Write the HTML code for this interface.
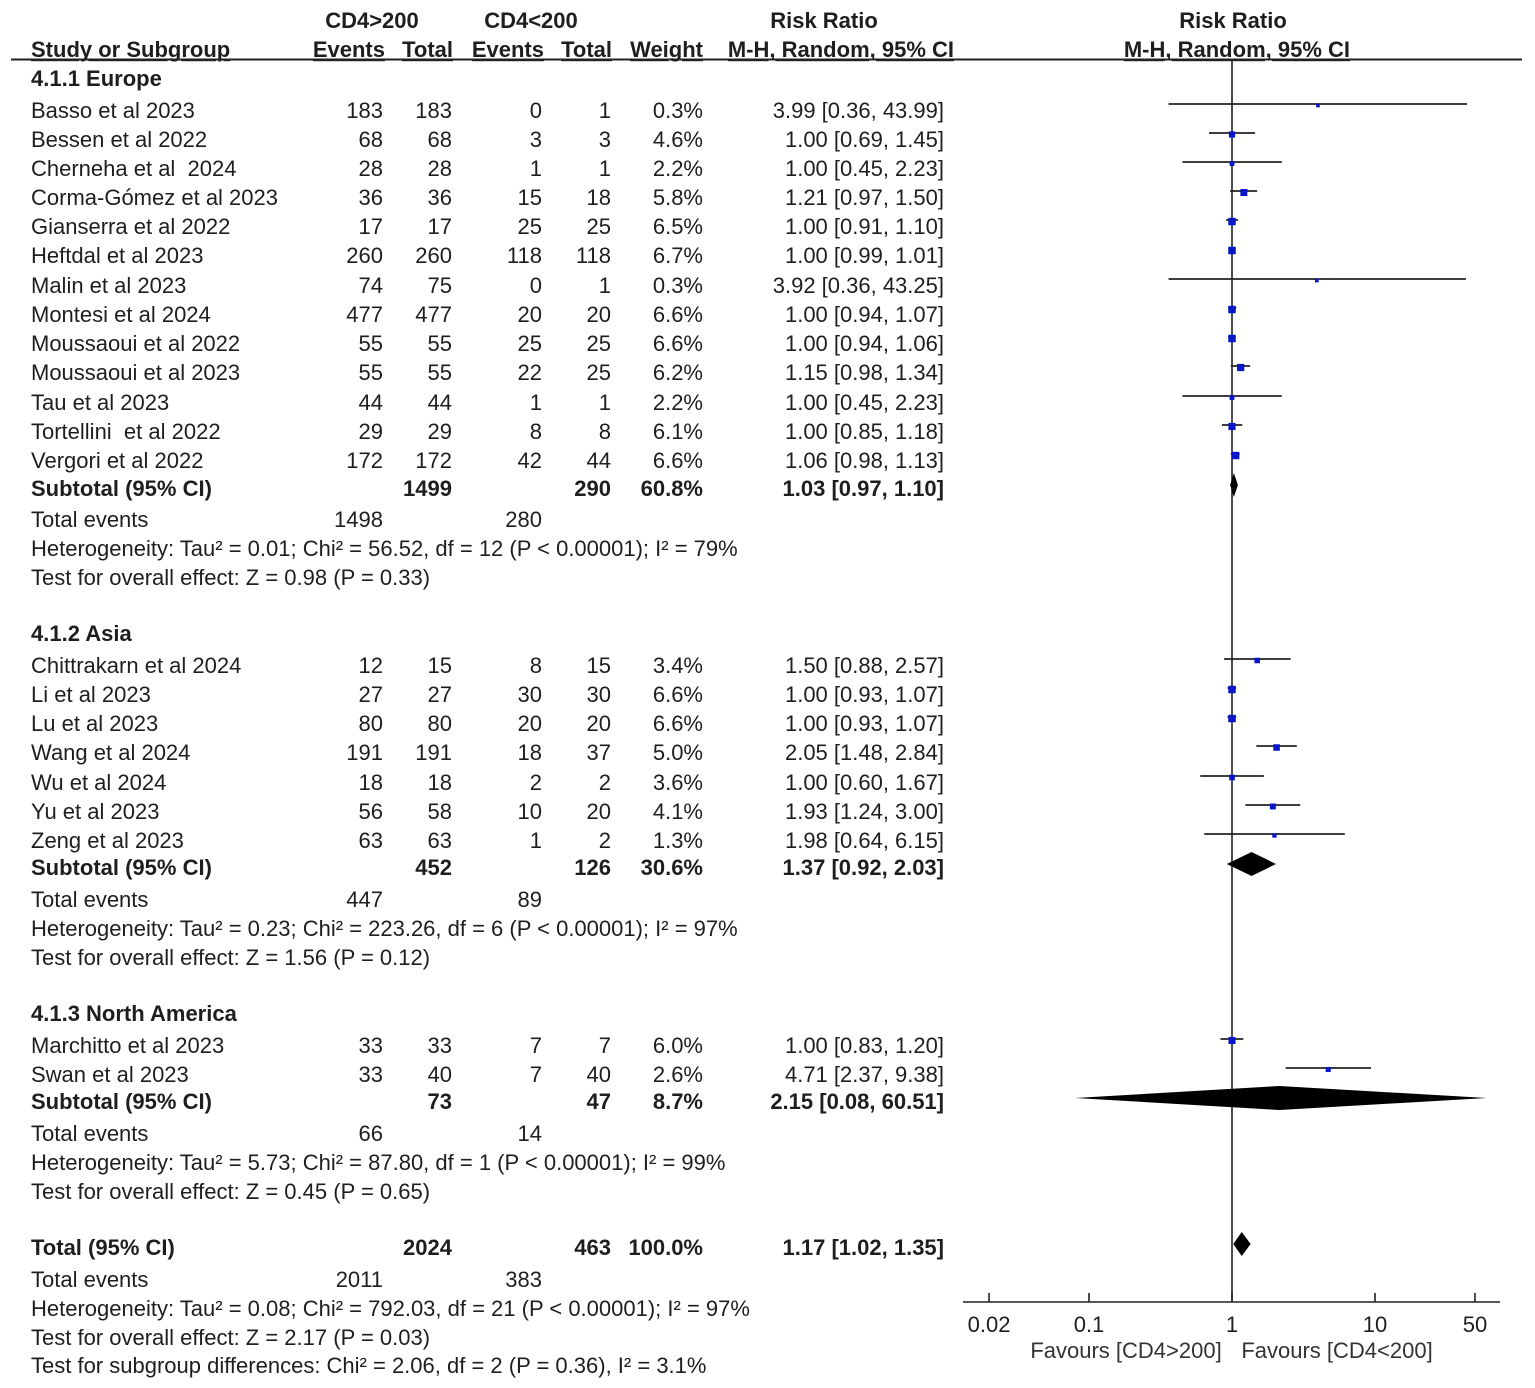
<!DOCTYPE html>
<html><head><meta charset="utf-8"><style>
html,body{margin:0;padding:0;background:#fff;overflow:hidden}
svg{display:block;font-family:"Liberation Sans",Arial,sans-serif;font-size:22px;fill:#1e1e1e}
text{white-space:pre}
.b{font-weight:bold}
</style></head><body>
<svg id="c" width="1535" height="1388" viewBox="0 0 1535 1388">
<g>
<text x="372" y="28" text-anchor="middle" class="b">CD4&gt;200</text>
<text x="531" y="28" text-anchor="middle" class="b">CD4&lt;200</text>
<text x="824" y="28" text-anchor="middle" class="b">Risk Ratio</text>
<text x="1233" y="28" text-anchor="middle" class="b">Risk Ratio</text>
<text x="31" y="57" class="b" text-decoration="underline">Study or Subgroup</text>
<text x="385" y="57" text-anchor="end" class="b" text-decoration="underline">Events</text>
<text x="453" y="57" text-anchor="end" class="b" text-decoration="underline">Total</text>
<text x="544" y="57" text-anchor="end" class="b" text-decoration="underline">Events</text>
<text x="612" y="57" text-anchor="end" class="b" text-decoration="underline">Total</text>
<text x="703" y="57" text-anchor="end" class="b" text-decoration="underline">Weight</text>
<text x="954" y="57" text-anchor="end" class="b" text-decoration="underline">M-H, Random, 95% CI</text>
<text x="1350" y="57" text-anchor="end" class="b" text-decoration="underline">M-H, Random, 95% CI</text>
<line x1="11" y1="59.5" x2="1522" y2="59.5" stroke="#222" stroke-width="2"/>
</g>
<g id="rows"></g>
<g id="plot"></g>
</svg>
<script>
const studies=["Basso et al 2023","Bessen et al 2022","Cherneha et al  2024","Corma-Gómez et al 2023","Gianserra et al 2022","Heftdal et al 2023","Malin et al 2023","Montesi et al 2024","Moussaoui et al 2022","Moussaoui et al 2023","Tau et al 2023","Tortellini  et al 2022","Vergori et al 2022","Chittrakarn et al 2024","Li et al 2023","Lu et al 2023","Wang et al 2024","Wu et al 2024","Yu et al 2023","Zeng et al 2023","Marchitto et al 2023","Swan et al 2023"];
const studyY=[111,140,169,198,227,256,286,315,344,373,403,432,461,666,695,724,753,783,812,841,1046,1075];
const ev1=[183,68,28,36,17,260,74,477,55,55,44,29,172,12,27,80,191,18,56,63,33,33];
const tot1=[183,68,28,36,17,260,75,477,55,55,44,29,172,15,27,80,191,18,58,63,33,40];
const ev2=[0,3,1,15,25,118,0,20,25,22,1,8,42,8,30,20,18,2,10,1,7,7];
const tot2=[1,3,1,18,25,118,1,20,25,25,1,8,44,15,30,20,37,2,20,2,7,40];
const weight=[0.3,4.6,2.2,5.8,6.5,6.7,0.3,6.6,6.6,6.2,2.2,6.1,6.6,3.4,6.6,6.6,5.0,3.6,4.1,1.3,6.0,2.6];
const rr=[3.99,1.00,1.00,1.21,1.00,1.00,3.92,1.00,1.00,1.15,1.00,1.00,1.06,1.50,1.00,1.00,2.05,1.00,1.93,1.98,1.00,4.71];
const lo=[0.36,0.69,0.45,0.97,0.91,0.99,0.36,0.94,0.94,0.98,0.45,0.85,0.98,0.88,0.93,0.93,1.48,0.60,1.24,0.64,0.83,2.37];
const hi=[43.99,1.45,2.23,1.50,1.10,1.01,43.25,1.07,1.06,1.34,2.23,1.18,1.13,2.57,1.07,1.07,2.84,1.67,3.00,6.15,1.20,9.38];
const subLabels=["Subtotal (95% CI)","Subtotal (95% CI)","Subtotal (95% CI)","Total (95% CI)"];
const subY=[489,868,1102,1248];
const subTot1=[1499,452,73,2024];
const subTot2=[290,126,47,463];
const subW=["60.8%","30.6%","8.7%","100.0%"];
const subRR=[1.03,1.37,2.15,1.17];
const subLo=[0.97,0.92,0.08,1.02];
const subHi=[1.10,2.03,60.51,1.35];
const ticks=[0.02,0.1,1,10,50];
const tickLabels=["0.02","0.1","1","10","50"];
const fmt=v=>v.toFixed(2);
const X=v=>1232+143*Math.log10(v);
const NS="http://www.w3.org/2000/svg";
const rows=document.getElementById('rows'),plot=document.getElementById('plot');
function t(x,y,s,anchor,bold,parent){const e=document.createElementNS(NS,'text');e.setAttribute('x',x);e.setAttribute('y',y);if(anchor)e.setAttribute('text-anchor',anchor);if(bold)e.setAttribute('class','b');e.textContent=s;(parent||rows).appendChild(e);return e;}
function mk(tag,attrs,parent){const e=document.createElementNS(NS,tag);for(const k in attrs)e.setAttribute(k,attrs[k]);(parent||plot).appendChild(e);return e;}
const misc=[["4.1.1 Europe",79],["4.1.2 Asia",634],["4.1.3 North America",1014]];
misc.forEach(m=>{const e=t(31,m[1]+7,m[0],null,true);

});
const te=[[520,"1498","280"],[900,"447","89"],[1134,"66","14"],[1280,"2011","383"]];
te.forEach(r=>{t(31,r[0]+7,"Total events");t(383,r[0]+7,r[1],'end');t(542,r[0]+7,r[2],'end');});
const het=[[549,"Heterogeneity: Tau² = 0.01; Chi² = 56.52, df = 12 (P < 0.00001); I² = 79%"],[578,"Test for overall effect: Z = 0.98 (P = 0.33)"],[929,"Heterogeneity: Tau² = 0.23; Chi² = 223.26, df = 6 (P < 0.00001); I² = 97%"],[958,"Test for overall effect: Z = 1.56 (P = 0.12)"],[1163,"Heterogeneity: Tau² = 5.73; Chi² = 87.80, df = 1 (P < 0.00001); I² = 99%"],[1192,"Test for overall effect: Z = 0.45 (P = 0.65)"],[1309,"Heterogeneity: Tau² = 0.08; Chi² = 792.03, df = 21 (P < 0.00001); I² = 97%"],[1338,"Test for overall effect: Z = 2.17 (P = 0.03)"],[1366,"Test for subgroup differences: Chi² = 2.06, df = 2 (P = 0.36), I² = 3.1%"]];
het.forEach(h=>t(31,h[0]+7,h[1]));
mk('line',{x1:1232,y1:60,x2:1232,y2:1302,stroke:'#222','stroke-width':1.6,});
mk('line',{x1:963,y1:1302,x2:1500,y2:1302,stroke:'#222','stroke-width':1.6,});
ticks.forEach((v,i)=>{const l=mk('line',{x1:X(v),y1:1293,x2:X(v),y2:1302,stroke:'#222','stroke-width':1.6});


t(X(v),1332,tickLabels[i],'middle',false,plot);});
t(1126,1358,"Favours [CD4>200]",'middle',false,plot).setAttribute('fill','#333');
t(1337,1358,"Favours [CD4<200]",'middle',false,plot).setAttribute('fill','#333');
studies.forEach((s,i)=>{const y=studyY[i]+7;
const n=t(31,y,s);


t(383,y,ev1[i],'end');t(452,y,tot1[i],'end');t(542,y,ev2[i],'end');t(611,y,tot2[i],'end');
t(703,y,weight[i].toFixed(1)+'%','end');
t(944,y,fmt(rr[i])+' ['+fmt(lo[i])+', '+fmt(hi[i])+']','end');
const cy=studyY[i]-7;
const ci=mk('line',{x1:X(lo[i]),y1:cy,x2:X(hi[i]),y2:cy,stroke:'#222','stroke-width':1.8});


const sz=3.5+weight[i]*0.6;
const sq=mk('rect',{x:X(rr[i])-sz/2,y:cy-sz/2+1.5,width:sz,height:sz,fill:'#0a14c8'});


});
subLabels.forEach((s,i)=>{const y=subY[i]+7;
t(31,y,s,null,true);t(452,y,subTot1[i],'end',true);t(611,y,subTot2[i],'end',true);
t(703,y,subW[i],'end',true);
t(944,y,fmt(subRR[i])+' ['+fmt(subLo[i])+', '+fmt(subHi[i])+']','end',true);
const cy=subY[i]-4,h=12;
const d=mk('polygon',{points:`${X(subLo[i])},${cy} ${X(subRR[i])},${cy-h} ${X(subHi[i])},${cy} ${X(subRR[i])},${cy+h}`,fill:'#000'});


});
</script>
</body></html>
